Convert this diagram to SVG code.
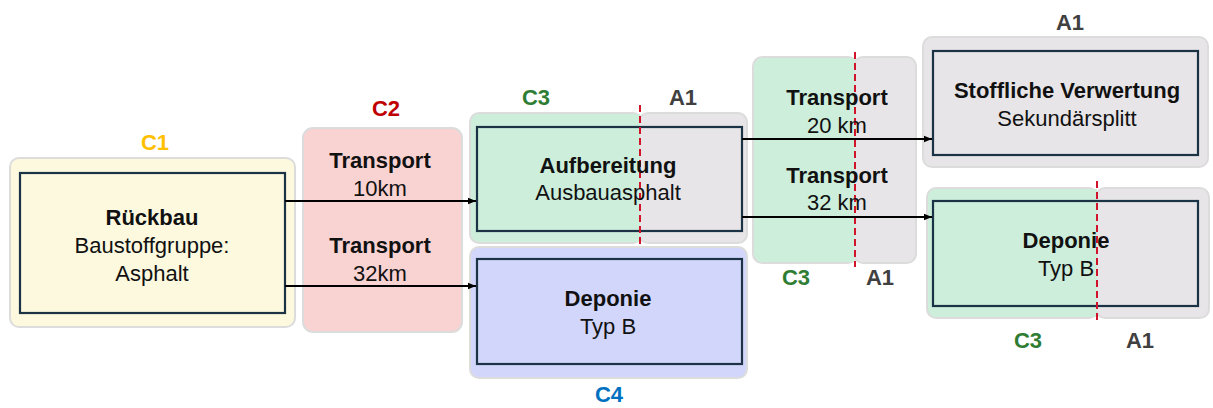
<svg xmlns="http://www.w3.org/2000/svg" width="1213" height="408" viewBox="0 0 1213 408">
<defs>
<marker id="ah2" viewBox="0 0 10 10" refX="10" refY="5" markerWidth="8" markerHeight="8" orient="auto" markerUnits="userSpaceOnUse">
<path d="M0,1 L10,5 L0,9 z" fill="#000"/>
</marker>
</defs>
<style>
.bg{stroke:#DCDCDC;stroke-width:2}
.yel{fill:#FCF9DF}
.red{fill:#F9D2D2}
.grn{fill:#CDEEDB}
.gry{fill:#E7E5E7}
.lav{fill:#D2D6FB}
.inner{fill:none;stroke:#1B3344;stroke-width:2.2}
.div{stroke:#D0142A;stroke-width:2;stroke-dasharray:7,4}
.t{font-family:"Liberation Sans",Arial,sans-serif;font-size:22px;fill:#111;text-anchor:middle}
.b{font-weight:bold}
.lab{font-family:"Liberation Sans",Arial,sans-serif;font-size:22px;font-weight:bold;text-anchor:middle}
.conn{stroke:#000;stroke-width:2;fill:none}
</style>

<g id="n-rueckbau">
<rect class="bg yel" x="10" y="158" width="285" height="169" rx="9"/>
<rect class="inner" x="20" y="173" width="265" height="140"/>
<text class="t b" x="152" y="225">Rückbau</text>
<text class="t" x="152" y="253">Baustoffgruppe:</text>
<text class="t" x="152" y="281">Asphalt</text>
<text class="lab" x="155" y="150" fill="#FFC000">C1</text>
</g>

<g id="n-transport1">
<rect class="bg red" x="303" y="128" width="159" height="204" rx="10"/>
<text class="t b" x="380" y="168">Transport</text>
<text class="t" x="380" y="196">10km</text>
<text class="t b" x="380" y="253">Transport</text>
<text class="t" x="380" y="281">32km</text>
<text class="lab" x="386" y="116" fill="#C00000">C2</text>
</g>

<g id="n-aufbereitung">
<rect class="bg grn" x="470" y="113" width="172" height="130" rx="9"/>
<rect class="bg gry" x="639" y="113" width="108" height="130" rx="9"/>
<rect class="grn" x="600" y="114" width="40" height="128"/>
<rect class="inner" x="477" y="127" width="265" height="104"/>
<line class="div" x1="640" y1="105" x2="640" y2="246"/>
<text class="t b" x="608" y="173">Aufbereitung</text>
<text class="t" x="608" y="200">Ausbauasphalt</text>
<text class="lab" x="536" y="105" fill="#2E7D32">C3</text>
<text class="lab" x="683" y="105" fill="#404040">A1</text>
</g>

<g id="n-deponie1">
<rect class="bg lav" x="470" y="247" width="277" height="131" rx="9"/>
<rect class="inner" x="477" y="259" width="265" height="105"/>
<text class="t b" x="608" y="306">Deponie</text>
<text class="t" x="608" y="334">Typ B</text>
<text class="lab" x="609" y="402" fill="#0070C0">C4</text>
</g>

<g id="n-transport2">
<rect class="bg grn" x="753" y="57" width="104" height="206" rx="9"/>
<rect class="bg gry" x="854" y="57" width="62" height="206" rx="9"/>
<rect class="grn" x="820" y="58" width="35" height="204"/>
<line class="div" x1="855" y1="52" x2="855" y2="267"/>
<text class="t b" x="837" y="105">Transport</text>
<text class="t" x="837" y="133">20 km</text>
<text class="t b" x="837" y="183">Transport</text>
<text class="t" x="837" y="210">32 km</text>
<text class="lab" x="796" y="285" fill="#2E7D32">C3</text>
<text class="lab" x="880" y="285" fill="#404040">A1</text>
</g>

<g id="n-verwertung">
<rect class="bg gry" x="923" y="37" width="285" height="130" rx="9"/>
<rect class="inner" x="933" y="51" width="265" height="104"/>
<text class="t b" x="1067" y="98">Stoffliche Verwertung</text>
<text class="t" x="1067" y="126">Sekundärsplitt</text>
<text class="lab" x="1070" y="30" fill="#404040">A1</text>
</g>

<g id="n-deponie2">
<rect class="bg grn" x="927" y="188" width="171" height="130" rx="9"/>
<rect class="bg gry" x="1096" y="188" width="113" height="130" rx="9"/>
<rect class="grn" x="1060" y="189" width="37" height="128"/>
<rect class="inner" x="933" y="201" width="265" height="105"/>
<line class="div" x1="1097" y1="181" x2="1097" y2="321"/>
<text class="t b" x="1066" y="248">Deponie</text>
<text class="t" x="1066" y="276">Typ B</text>
<text class="lab" x="1028" y="348" fill="#2E7D32">C3</text>
<text class="lab" x="1140" y="348" fill="#404040">A1</text>
</g>

<g id="connectors">
<line class="conn" x1="285" y1="201" x2="476" y2="201" marker-end="url(#ah2)"/>
<line class="conn" x1="285" y1="286" x2="476" y2="286" marker-end="url(#ah2)"/>
<line class="conn" x1="742" y1="139" x2="932" y2="139" marker-end="url(#ah2)"/>
<line class="conn" x1="742" y1="217" x2="932" y2="217" marker-end="url(#ah2)"/>
</g>
</svg>
